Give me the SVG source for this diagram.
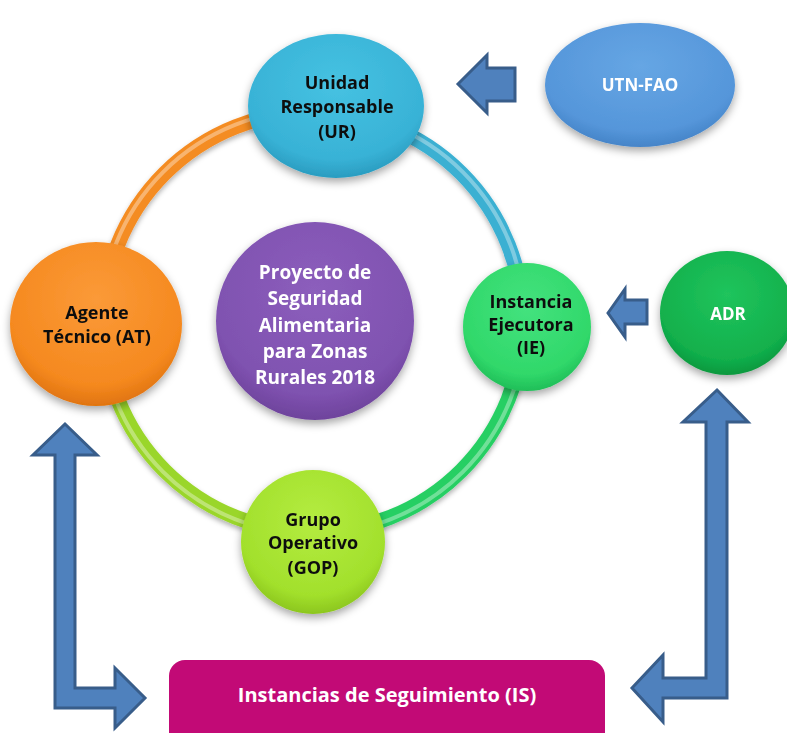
<svg xmlns="http://www.w3.org/2000/svg" width="787" height="733" viewBox="0 0 787 733">
<defs>
<style>
.t{font-family:"Open Sans","Liberation Sans",sans-serif;font-weight:700;text-anchor:middle;}
.dk{fill:#111;font-size:18px;}
.wh{fill:#fff;}
.arr{fill:#4f81bd;stroke:#385d8a;stroke-width:3;stroke-linejoin:miter;}
.ring{fill:none;stroke-width:15;stroke-linecap:butt;}
.hl{fill:none;stroke-width:4;stroke-opacity:0.35;stroke:#fff;}
</style>
<filter id="sh" x="-20%" y="-20%" width="140%" height="150%">
<feDropShadow dx="0" dy="4" stdDeviation="4" flood-color="#000" flood-opacity="0.35"/>
</filter>
<filter id="rs" x="-10%" y="-10%" width="120%" height="120%">
<feDropShadow dx="0" dy="3" stdDeviation="2.5" flood-color="#000" flood-opacity="0.3"/>
</filter>
<radialGradient id="gUR" cx="50%" cy="35%" r="65%"><stop offset="0" stop-color="#46c2e2"/><stop offset="0.8" stop-color="#38b2d6"/><stop offset="1" stop-color="#2a9cc0"/></radialGradient>
<radialGradient id="gUTN" cx="50%" cy="35%" r="65%"><stop offset="0" stop-color="#66a6e4"/><stop offset="0.8" stop-color="#5596da"/><stop offset="1" stop-color="#4584c8"/></radialGradient>
<radialGradient id="gAT" cx="50%" cy="35%" r="65%"><stop offset="0" stop-color="#fb9a38"/><stop offset="0.8" stop-color="#f5891f"/><stop offset="1" stop-color="#e07410"/></radialGradient>
<radialGradient id="gP" cx="50%" cy="35%" r="65%"><stop offset="0" stop-color="#8c5ebc"/><stop offset="0.8" stop-color="#7f52b0"/><stop offset="1" stop-color="#6e439c"/></radialGradient>
<radialGradient id="gIE" cx="50%" cy="35%" r="65%"><stop offset="0" stop-color="#44e27e"/><stop offset="0.8" stop-color="#30d86a"/><stop offset="1" stop-color="#20be58"/></radialGradient>
<radialGradient id="gADR" cx="50%" cy="35%" r="65%"><stop offset="0" stop-color="#20c45c"/><stop offset="0.8" stop-color="#12b04c"/><stop offset="1" stop-color="#0a983e"/></radialGradient>
<radialGradient id="gGOP" cx="50%" cy="35%" r="65%"><stop offset="0" stop-color="#b4ec40"/><stop offset="0.8" stop-color="#a2e02c"/><stop offset="1" stop-color="#8cc61e"/></radialGradient>
</defs>

<g id="connectors">
<g filter="url(#rs)">
<path class="ring" stroke="#f48c24" d="M103,322 A210,210 0 0 1 313,112"/>
<path class="ring" stroke="#3ab0d2" d="M313,112 A210,210 0 0 1 523,322"/>
<path class="ring" stroke="#28cf64" d="M523,322 A210,210 0 0 1 313,532"/>
<path class="ring" stroke="#9ad62a" d="M313,532 A210,210 0 0 1 103,322"/>
</g>
<path class="hl" d="M101,322 A212,212 0 0 1 313,110 A212,212 0 0 1 525,322"/>
<path class="hl" d="M525,322 A212,212 0 0 1 313,534 A212,212 0 0 1 101,322" stroke-opacity="0.2"/>
<path class="arr" d="M458,84 L487,55 L487,68 L515,68 L515,101 L487,101 L487,113 Z"/>
<path class="arr" d="M608,313 L625,289 L625,300 L647,300 L647,324 L625,324 L625,337 Z"/>
<path class="arr" d="M65,424 L97,455 L75,455 L75,688 L115,688 L115,668 L145,698 L115,728 L115,708 L55,708 L55,455 L33,455 Z"/>
<path class="arr" d="M717,390 L748,422 L727,422 L727,698 L663,698 L663,722 L632,688 L663,655 L663,678 L706,678 L706,422 L683,422 Z"/>
</g>

<g id="utn" filter="url(#sh)">
<ellipse cx="640" cy="85" rx="95" ry="62" fill="url(#gUTN)"/>
<text class="t wh" x="640" y="91" font-size="17">UTN-FAO</text>
</g>

<g id="ur" filter="url(#sh)">
<ellipse cx="336" cy="106" rx="88" ry="72" fill="url(#gUR)"/>
<text class="t dk" x="337" y="89">Unidad</text>
<text class="t dk" x="337" y="113">Responsable</text>
<text class="t dk" x="337" y="138">(UR)</text>
</g>

<g id="at" filter="url(#sh)">
<ellipse cx="96" cy="324" rx="86" ry="82" fill="url(#gAT)"/>
<text class="t dk" x="97" y="319">Agente</text>
<text class="t dk" x="97" y="343">Técnico (AT)</text>
</g>

<g id="proyecto" filter="url(#sh)">
<circle cx="315" cy="321" r="99" fill="url(#gP)"/>
<text class="t wh" x="315" y="279" font-size="19">Proyecto de</text>
<text class="t wh" x="315" y="305" font-size="19">Seguridad</text>
<text class="t wh" x="315" y="332" font-size="19">Alimentaria</text>
<text class="t wh" x="315" y="358" font-size="19">para Zonas</text>
<text class="t wh" x="315" y="384" font-size="19">Rurales 2018</text>
</g>

<g id="ie" filter="url(#sh)">
<circle cx="527" cy="327" r="64" fill="url(#gIE)"/>
<text class="t dk" x="531" y="308">Instancia</text>
<text class="t dk" x="531" y="331">Ejecutora</text>
<text class="t dk" x="531" y="354">(IE)</text>
</g>

<g id="adr" filter="url(#sh)">
<ellipse cx="727" cy="313" rx="67" ry="62" fill="url(#gADR)"/>
<text class="t wh" x="728" y="320" font-size="17">ADR</text>
</g>

<g id="gop" filter="url(#sh)">
<circle cx="313" cy="542" r="72" fill="url(#gGOP)"/>
<text class="t dk" x="313" y="526">Grupo</text>
<text class="t dk" x="313" y="549">Operativo</text>
<text class="t dk" x="313" y="574">(GOP)</text>
</g>

<g id="is">
<rect x="169" y="660" width="436" height="90" rx="16" fill="#c20a76"/>
<text class="t wh" x="387" y="702" font-size="20">Instancias de Seguimiento (IS)</text>
</g>
</svg>
